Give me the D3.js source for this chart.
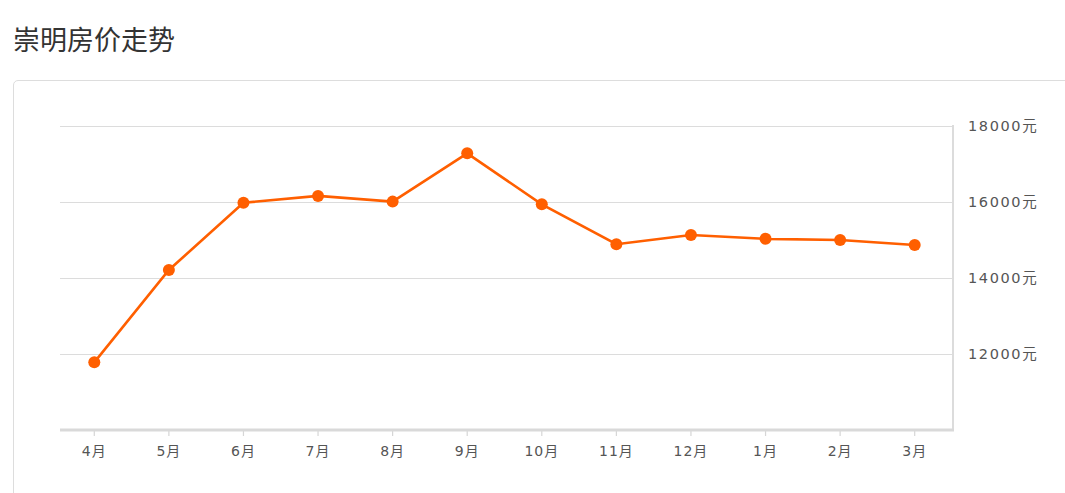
<!DOCTYPE html>
<meta charset="utf-8">
<script src="https://d3js.org/d3.v7.min.js"></script>
<style>
  body { margin: 0; background: #fff; overflow: hidden; }
  .title { position: absolute; left: 13px; top: 25px; line-height: 1; font-family: "Noto Sans CJK SC", sans-serif; font-size: 27px; color: #333; }
  .card { position: absolute; left: 13px; top: 80px; width: 1100px; height: 500px; border: 1px solid #ddd; border-radius: 5px; }
  #chart { position: absolute; left: 0; top: 0; }
</style>
<div class="title">崇明房价走势</div>
<div class="card"></div>
<div id="chart"></div>
<script>
// months shown on the x axis
var months = ["4月", "5月", "6月", "7月", "8月", "9月", "10月", "11月", "12月", "1月", "2月", "3月"];
// average price per month (元)
var prices = [11780, 14210, 15980, 16160, 16010, 17280, 15940, 14890, 15130, 15030, 15000, 14870];
var yTicks = [12000, 14000, 16000, 18000];

var W = 1065, H = 493;
var plotLeft = 60, plotRight = 953, plotTop = 126, plotBottom = 430;
var labelFont = "'DejaVu Sans', 'Noto Sans CJK SC', sans-serif";

var svg = d3.select("#chart").append("svg")
  .attr("width", W)
  .attr("height", H);

var x = d3.scaleBand()
  .domain(months)
  .range([57, 952]);

var y = d3.scaleLinear()
  .domain([10000, 18000])
  .range([plotBottom, plotTop]);

// gridlines
svg.append("g")
  .selectAll("line")
  .data(yTicks)
  .enter().append("line")
    .attr("x1", plotLeft)
    .attr("x2", plotRight)
    .attr("y1", function(d) { return Math.round(y(d)) + 0.5; })
    .attr("y2", function(d) { return Math.round(y(d)) + 0.5; })
    .attr("stroke", "#dcdcdc")
    .attr("stroke-width", 1.2);

// right axis line + labels
svg.append("line")
  .attr("x1", plotRight).attr("x2", plotRight)
  .attr("y1", y(18000) - 1).attr("y2", plotBottom)
  .attr("stroke", "#dcdcdc")
  .attr("stroke-width", 2);

svg.append("g")
  .selectAll("text")
  .data(yTicks)
  .enter().append("text")
    .attr("x", 968)
    .attr("y", function(d) { return y(d); })
    .attr("dy", "0.35em")
    .attr("font-family", labelFont)
    .attr("font-size", 14.5)
    .attr("letter-spacing", 1.6)
    .attr("fill", "#555")
    .text(function(d) { return d + "元"; });

// bottom axis
var xAxis = svg.append("g")
  .attr("transform", "translate(0," + plotBottom + ")")
  .call(d3.axisBottom(x).tickSize(6).tickPadding(10));
xAxis.select(".domain").remove();
xAxis.selectAll(".tick line").attr("stroke", "#d6d6d6").attr("stroke-width", 1.2);
xAxis.selectAll(".tick text")
  .attr("font-family", labelFont)
  .attr("font-size", 14)
  .attr("letter-spacing", 1)
  .attr("fill", "#555");

svg.append("line")
  .attr("x1", plotLeft).attr("x2", plotRight + 1)
  .attr("y1", plotBottom).attr("y2", plotBottom)
  .attr("stroke", "#d9d9d9")
  .attr("stroke-width", 3);

// line + dots
var cx = function(d, i) { return x(months[i]) + x.bandwidth() / 2; };

svg.append("path")
  .datum(prices)
  .attr("fill", "none")
  .attr("stroke", "#ff5f00")
  .attr("stroke-width", 2.6)
  .attr("d", d3.line().x(cx).y(function(d) { return y(d); }));

svg.append("g")
  .selectAll("circle")
  .data(prices)
  .enter().append("circle")
    .attr("cx", cx)
    .attr("cy", function(d) { return y(d); })
    .attr("r", 6)
    .attr("fill", "#ff5f00");
</script>
